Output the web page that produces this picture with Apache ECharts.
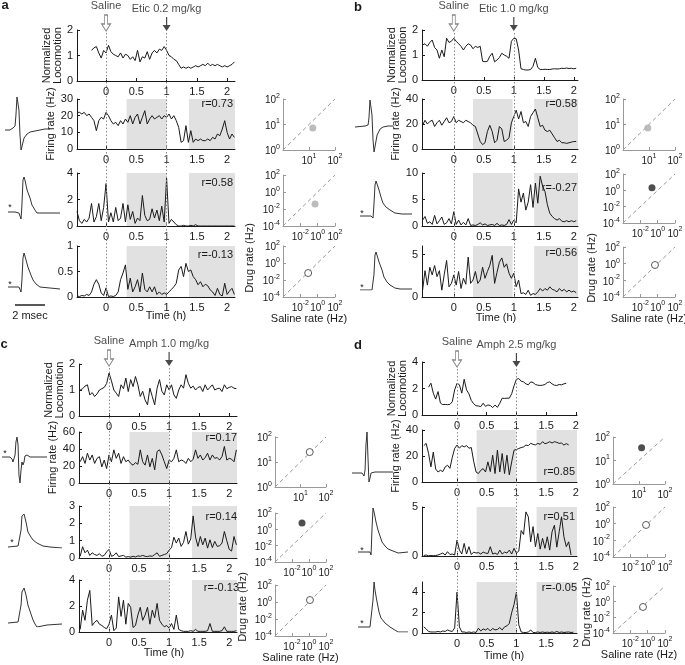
<!DOCTYPE html>
<html><head><meta charset="utf-8">
<script src="https://cdn.jsdelivr.net/npm/echarts@6/dist/echarts.min.js"></script>
<style>html,body{margin:0;padding:0;background:#fff}#c{width:685px;height:665px}</style>
</head><body><div id="c"></div>
<script>
// ---------------- DATA ----------------
const TIME = [-0.56,-0.52,-0.48,-0.44,-0.40,-0.36,-0.32,-0.28,-0.24,-0.20,
  -0.16,-0.12,-0.08,-0.04,0,0.04,0.08,0.12,0.16,0.20,
  0.24,0.28,0.32,0.36,0.40,0.44,0.48,0.52,0.56,0.60,
  0.64,0.68,0.72,0.76,0.80,0.84,0.88,0.92,0.96,1.00,
  1.04,1.08,1.12,1.16,1.20,1.24,1.28,1.32,1.36,1.40,
  1.44,1.48,1.52,1.56,1.60,1.64,1.68,1.72,1.76,1.80,
  1.84,1.88,1.92,1.96,2.00,2.04,2.08,2.12];
const X_TICKS = [0,0.5,1,1.5,2];

// panel a
const LOCO_A = [null,null,null,null,null,null,null,null,1.2,1.3,
  1.35,1.1,0.9,1.2,1.1,1.4,1.15,1.05,1.0,0.95,
  1.1,0.9,1.05,1.0,0.85,0.95,0.8,1.2,0.75,0.95,
  0.9,1.15,0.85,1.1,1.2,1.1,1.25,1.2,1.35,1.2,
  1.0,0.95,0.85,0.8,0.65,0.5,0.55,0.5,0.55,0.5,
  0.55,0.6,0.55,0.6,0.65,0.6,0.7,0.6,0.65,0.6,
  0.65,0.6,0.55,0.6,0.55,0.6,0.65,0.75];
const FR2_A = [null,null,22,22,21,22,20,21,19,17,
  11,17,19,18,22,20,17,15,16,14,
  17,15,18,16,20,15,19,21,15,19,
  23,15,18,20,18,19,20,18,20,19,
  21,18,20,17,13,4,5,14,4,11,
  4,6,5,6,5,5,6,5,7,6,
  9,8,12,17,10,6,9,7];
const FR3_A = [null,null,1.1,0.4,0.2,0.5,0.3,0.6,1.7,0.3,
  0.7,1.7,0.4,1.4,3.2,0.3,1.0,0.3,1.4,0.4,
  0.6,1.7,0.3,1.6,0.5,1.1,0.2,0.6,0.4,2.3,
  0.8,0.4,0.5,1.3,0.6,1.2,0.4,1.5,0.3,3.6,
  0.2,0.5,0.3,0.1,0,0,0.05,0,0,0.05,
  0,0.1,0,0,0,0,0,0,0,0,
  0,0,0,0,0,0,0,0];
const FR4_A = [null,null,0.02,0.01,0.03,0.02,0.05,0.03,0.1,0.25,
  0.34,0.25,0.08,0.03,0.18,0.01,0.02,0.01,0.03,0.1,
  0.34,0.47,0.63,0.15,0.37,0.1,0.2,0.34,0.1,0.47,
  0.15,0.1,0.2,0.1,0.2,0.05,0.1,0.05,0.08,0.05,
  0.1,0.15,0.2,0.27,0.53,0.6,0.4,0.66,0.5,0.53,
  0.4,0.34,0.24,0.3,0.2,0.25,0.22,0.14,0.1,0.03,
  0.17,0.05,0.02,0.27,0.05,0.12,0.17,0.05];

// panel b
const LOCO_B = [null,1.4,1.45,1.35,1.5,1.6,1.3,1.2,0.87,1.2,
  0.93,1.67,1.5,1.55,1.67,1.55,1.45,1.35,1.2,1.35,
  1.45,1.4,1.25,1.35,1.3,1.35,0.75,0.73,0.75,0.95,
  1.07,0.73,0.8,0.9,1.07,1.0,0.95,0.87,1.55,1.67,
  1.65,1.2,0.45,0.42,0.4,0.4,0.42,0.55,0.87,0.5,
  0.42,0.42,0.43,0.42,0.42,0.44,0.45,0.44,0.45,0.47,
  0.46,0.48,0.46,0.47,0.45,0.47,null,null];
const FR2_B = [null,19,23,20,22,23,18,21,23,19,
  22,25,21,22,26,21,23,22,21,23,
  22,21,19,18,12,6,3.5,5,14,19,
  14,5,7,18,16,6,7,9,21,26,
  31,24,30,21,22,18,26,29,32,25,
  18,19,15,14,15,12,9,6,7,5,
  5,4.5,5,5.5,6,6,null,null];
const FR3_B = [null,1.1,1.8,0.5,0.8,0.3,2.0,0.4,1.0,1.7,
  0.3,0.6,1.4,0.4,2.7,0.3,1.1,0.2,0.7,0.2,
  1.4,0.1,0.2,0.1,0.3,0.6,0.2,0.4,0.1,0.2,
  0.3,0.1,0.5,0.1,0.2,0.1,0.3,1.2,0.3,1.1,
  0.6,7.0,4.5,6.2,3.0,4.5,7.8,3.5,8.1,4.3,
  9.4,7.5,6.5,4.0,2.4,1.8,1.4,1.1,1.4,0.9,
  0.8,1.0,0.8,1.0,0.8,1.0,null,null];
const FR4_B = [null,0.8,3.1,1.4,3.5,2.6,3.7,2.4,3.1,0.8,
  2.6,4.3,1.2,1.6,2.6,1.4,3.0,1.0,2.2,1.5,
  4.7,1.6,2.0,3.0,1.6,2.0,3.5,2.2,3.0,3.7,
  4.9,1.6,2.9,4.1,4.6,3.5,3.9,2.8,2.2,2.8,
  1.2,2.0,0.4,0.5,0.3,0.8,0.2,0.4,0.3,0.6,
  1.0,0.7,1.0,0.8,1.2,0.9,0.8,0.6,1.0,0.7,
  0.9,0.6,0.8,0.6,0.7,0.5,null,null];

// panel c
const LOCO_C = [null,null,1.0,1.05,1.15,1.2,0.81,0.9,0.75,0.85,
  1.0,1.05,1.1,1.25,1.65,1.35,1.0,0.88,0.75,1.2,
  1.05,1.46,0.94,1.4,1.13,1.52,1.2,0.75,0.95,0.62,
  0.43,1.07,0.75,0.43,1.07,1.4,0.95,0.81,1.2,1.0,
  1.2,0.81,0.68,1.0,1.2,1.07,1.59,1.26,1.07,1.15,
  1.0,1.1,1.13,0.94,1.2,1.0,1.1,1.2,1.0,1.05,
  1.07,0.94,1.2,1.05,1.1,1.13,1.07,1.05];
const FR2_C = [null,null,25,31,23,35,27,33,23,29,
  31,19,27,17,33,25,39,29,35,23,
  31,25,27,23,21,24,22,39,25,21,
  33,19,29,15.5,37,39,33,25,17,27,
  25,29,39,25,27,26,23,29,25,28,
  39,29,33,27,30,35,27,33,29,30,
  27,31,43,27,29,28,25,39];
const FR3_C = [null,null,0.1,0.65,0.3,0.45,0.15,0.3,0.2,0.15,
  0.25,0.1,0.15,0.35,0.5,0.1,0.15,0.3,0.08,0.12,
  0.15,0.05,0.08,0.05,0.1,0.06,0.12,0.1,0.15,0.1,
  0.08,0.12,0.1,0.2,0.3,0.1,0.15,0.2,0.25,0.45,
  0.6,1.2,0.86,1.15,0.67,0.9,1.53,0.8,1.1,2.43,
  1.2,0.67,1.24,0.76,1.15,0.57,1.05,0.6,0.96,0.67,
  0.7,0.86,1.53,1.0,0.5,0.4,1.24,0.76];
const FR4_C = [null,null,0.2,1.68,0.9,2.45,3.2,0.5,0.75,0.9,
  0.6,0.5,0.35,0.25,0.6,1.3,0.1,0.3,2.7,1.2,
  2.45,0.6,2.2,1.9,0.35,0.5,1.3,1.9,0.9,1.3,
  1.9,0.6,1.68,1.1,2.2,0.9,0.6,0.4,0.5,0.3,
  0.65,0.2,1.3,0.2,0.1,0.05,0.05,0.05,0.1,0.05,
  0.2,0.05,0.05,0.05,0.05,0.1,0.65,0.05,0.05,0.05,
  0.05,0.1,0.4,0.05,0.05,0.05,0.05,0.1];

// panel d
const LOCO_D = [null,null,2.1,2.4,1.65,1.2,1.77,0.9,0.78,0.8,
  0.78,0.8,1.0,1.9,2.4,2.28,1.65,2.7,1.9,1.6,
  1.1,0.85,0.7,0.68,0.63,0.89,0.65,0.76,0.72,0.56,
  0.75,0.58,0.89,1.27,1.25,1.27,1.27,1.6,2.2,2.7,
  2.75,2.55,2.5,2.35,2.28,2.5,2.45,2.3,2.25,2.23,
  2.25,2.3,2.45,2.5,2.35,2.25,2.23,2.3,2.28,2.35,
  2.4,null,null,null,null,null,null,null];
const FR2_D = [28,29.7,22,11.6,23,10,7.7,9,8,11.6,
  12.9,10.5,19,25.8,28.4,26,28,27,28,26,
  26.5,16,7.7,6.5,9,10.3,7.7,15.5,8,20.6,
  6.5,24.5,7.7,21.9,6.5,20.6,5.5,15.5,24.5,25,
  25.8,26.5,27,28.4,28,29.7,29,28.5,29.7,29,
  31,29.5,30,31,30,31,30.5,29.7,30,28.4,
  29.5,28.5,null,null,null,null,null,null];
const FR3_D = [0.05,0.1,0.02,0.05,0.03,0.05,0.1,0.2,0.3,0.1,
  0.44,0.15,0.2,0.1,1.62,0.6,0.2,1.28,0.2,0.95,
  0.15,0.4,0.3,0.35,0.2,0.4,0.3,0.25,0.95,0.2,
  0.3,0.15,0.6,0.2,0.4,0.3,0.6,0.2,0.78,0.3,
  0.5,2.6,2.2,4.5,4.0,1.45,3.0,0.95,2.3,0.7,
  1.8,0.78,1.96,0.6,2.47,3.14,0.9,2.47,4.0,1.96,
  0.95,1.45,0.1,null,null,null,null,null];
const FR4_D = [0.6,0.4,0.15,0.1,0.1,0.1,0.15,0.1,0.2,0.15,
  0.3,0.2,0.15,0.5,4.0,0.6,0.1,0.1,0.05,0.1,
  0.05,0.1,0.05,0.47,0.2,0.4,0.3,0.45,0.2,0.45,
  0.3,0.35,0.53,0.3,0.6,0.7,0.94,2.0,2.8,4.0,
  0.8,0.1,0.05,0.05,0.1,0.3,0.05,0.05,0.1,0.05,
  0.1,0.05,0.08,0.05,0.1,0.05,0.15,0.05,0.1,0.05,
  0.08,0.1,0.05,0.08,null,null,null,null];

// injection times (h), drug labels
const INJ = [0, 1];
const DRUG = ['Etic 0.2 mg/kg','Etic 1.0 mg/kg','Amph 1.0 mg/kg','Amph 2.5 mg/kg'];
// shaded epochs (h)
const SHADE_A = [[0.34,1.0],[1.37,2.13]];
const SHADE_B = [[0.32,0.98],[1.34,2.07]];
const SHADE_C = [[0.34,1.0],[1.38,2.13]];
const SHADE_D = [[0.33,0.99],[1.34,2.02]];
// y scales: [max, ticks]
const YLOCO_A = [2,[0,1,2]], YLOCO_B = [2,[0,1,2]], YLOCO_C = [2,[0,1,2]], YLOCO_D = [4,[0,2,4]];
const YFR_A = [[30,[0,10,20,30]],[4,[0,2,4]],[1,[0,0.5,1]]];
const YFR_B = [[40,[0,20,40]],[10,[0,5,10]],[6,[0,5]]];
const YFR_C = [[60,[0,20,40,60]],[3,[0,1,2,3]],[4,[0,2,4]]];
const YFR_D = [[40,[0,20,40]],[5,[0,5]],[5,[0,2,4]]];
// correlation labels
const R_A = ['r=0.73','r=0.58','r=-0.13'];
const R_B = ['r=0.58','r=-0.27','r=0.56'];
const R_C = ['r=0.17','r=0.14','r=-0.13'];
const R_D = ['r=0.85','r=0.51','r=-0.05'];
// saline vs drug rates (Hz) and marker kind
const SC_A = [[14,7.3],[0.5,0.04],[0.08,0.066]], K_A = ['gray','gray','open'];
const SC_B = [[9,7.3],[0.22,2.1],[0.49,0.69]], K_B = ['gray','black','open'];
const SC_C = [[23,25],[0.15,6],[1.3,1.7]], K_C = ['open','black','open'];
const SC_D = [[12.6,35],[0.65,0.7],[0.29,0.21]], K_D = ['black','open','open'];
const SC_RANGE = [[1,100],[1e-4,100],[1e-4,100]];
const SC_YTICKS = [[1,10,100],[1e-4,1e-2,1,100],[1e-4,1e-2,1,100]];
const SC_XTICKS = [[10,100],[1e-2,1,100],[1e-2,1,100]];
// spike waveforms [ms, amplitude a.u.]
const WAVE_A = [
 [[0,0],[0.33,0],[0.53,2],[0.67,4],[0.73,15],[0.8,33],[0.87,35],[0.93,20],[1.0,-5],[1.07,-20],[1.13,-18],[1.27,-8],[1.47,-4],[1.67,-2],[2.0,-1],[2.33,0],[2.67,1],[3.0,1]],
 [[0,0],[0.47,0],[0.73,-1],[0.87,-7],[0.93,7],[1.0,32],[1.07,35],[1.13,32],[1.27,22],[1.47,14],[1.6,7],[1.8,2],[1.93,-1],[2.13,-1],[2.8,-1],[3.47,-1]],
 [[0,0],[0.73,0],[0.87,-5],[0.93,7],[1.0,29],[1.07,34],[1.13,31],[1.33,20],[1.53,12],[1.67,7],[1.87,3],[2.13,0],[2.8,-1],[3.47,-2]]];
const WAVE_B = [
 [[0,0],[0.67,1],[0.87,2],[0.93,9],[1.0,27],[1.07,29],[1.13,12],[1.2,-13],[1.27,-25],[1.33,-23],[1.47,-8],[1.67,-2],[1.87,0],[2.2,1],[2.53,1]],
 [[0,0],[0.73,0],[0.87,-2],[0.93,11],[1.0,31],[1.07,35],[1.13,33],[1.27,26],[1.4,19],[1.53,13],[1.73,9],[2.0,6],[2.33,3],[2.8,2],[3.47,2]],
 [[0,0],[0.8,0],[0.87,1],[0.93,15],[1.0,35],[1.07,38],[1.13,35],[1.27,28],[1.47,20],[1.6,13],[1.8,8],[2.0,5],[2.33,2],[2.67,1],[3.47,1]]];
const WAVE_C = [
 [[0,0],[0.53,0],[0.67,-2],[0.73,-5],[0.87,2],[0.93,15],[1.0,20],[1.07,12],[1.13,-18],[1.2,-26],[1.27,-13],[1.33,-5],[1.4,-8],[1.47,-5],[1.53,1],[1.67,2],[1.87,0],[2.53,0],[3.0,0]],
 [[0,0],[0.67,1],[0.8,2],[0.87,17],[0.93,31],[1.07,33],[1.2,25],[1.33,15],[1.53,10],[1.67,7],[1.93,4],[2.33,1],[2.8,0],[3.6,-1]],
 [[0,0],[0.67,1],[0.8,2],[0.87,18],[0.93,31],[1.07,35],[1.2,28],[1.33,18],[1.53,9],[1.67,3],[1.8,-1],[1.93,-4],[2.27,-3],[2.6,-2],[3.6,-1]]];
const WAVE_D = [
 [[0,0],[0.67,0],[0.8,-3],[0.87,3],[0.93,28],[1.0,41],[1.07,13],[1.13,-9],[1.2,-5],[1.27,0],[1.53,1],[2.2,1],[2.73,1]],
 [[0,0],[0.8,0],[0.87,-3],[0.93,22],[1.0,44],[1.07,40],[1.2,30],[1.33,22],[1.6,10],[1.8,6],[2.0,3],[2.33,1],[2.67,-1],[3.33,0]],
 [[0,0],[0.8,0],[0.93,1],[1.0,27],[1.07,45],[1.13,37],[1.27,25],[1.4,15],[1.53,9],[1.8,4],[2.13,0],[2.67,-5],[3.33,-5]]];

// ---------------- LAYOUT ----------------
const FONT = '"Liberation Sans", Arial, Helvetica, sans-serif';
const INK = '#1a1a1a';
const PANELS = [
 {letter:'a', lpos:[5,5], xmin:-0.48, xmax:2.13, left:77, width:158,
  rows:[[30,51],[99,50],[173,53],[246,51]], tip:31, bottom:297,
  sc:{left:283,width:52,rows:[[99,51],[175,51],[246,51]]},
  waves:[[5,95,45,55],[8,177,52,42],[8,253,52,39]], gaps:[10,15],
  rpos:[[233,104],[233,183],[233,255]], stars:[[10,208],[10,285]],
  time:[166,316], drugRate:[250,258],
  loco:LOCO_A, fr:[FR2_A,FR3_A,FR4_A], yl:YLOCO_A, yf:YFR_A, shade:SHADE_A, r:R_A, scp:SC_A, k:K_A, w:WAVE_A, drug:DRUG[0]},
 {letter:'b', lpos:[358,7], xmin:-0.53, xmax:2.07, left:422, width:156,
  rows:[[30,50],[99,50],[173,53],[246,51]], tip:31, bottom:297,
  sc:{left:623,width:52,rows:[[99,51],[174,49],[247,50]]},
  waves:[[355,98,38,54],[360,181,52,37],[360,252,52,38]], gaps:[10,14],
  rpos:[[577,104],[577,188],[577,253]], stars:[[362,214],[362,288]],
  time:[496,318], drugRate:[592,268],
  loco:LOCO_B, fr:[FR2_B,FR3_B,FR4_B], yl:YLOCO_B, yf:YFR_B, shade:SHADE_B, r:R_B, scp:SC_B, k:K_B, w:WAVE_B, drug:DRUG[1]},
 {letter:'c', lpos:[4,344], xmin:-0.5, xmax:2.13, left:79, width:158,
  rows:[[364,52],[432,51],[506,52],[580,52]], tip:366, bottom:632,
  sc:{left:275,width:51,rows:[[437,50],[513,49],[585,51]]},
  waves:[[2,437,45,46],[8,514,54,34],[8,588,54,39]], gaps:[7,16],
  rpos:[[237,438],[237,517],[239,588]], stars:[[5,454],[12,543]],
  time:[164,653], drugRate:[243,607],
  loco:LOCO_C, fr:[FR2_C,FR3_C,FR4_C], yl:YLOCO_C, yf:YFR_C, shade:SHADE_C, r:R_C, scp:SC_C, k:K_C, w:WAVE_C, drug:DRUG[2]},
 {letter:'d', lpos:[358,345], xmin:-0.59, xmax:2.02, left:422, width:155,
  rows:[[362,53],[430,52],[507,49],[582,51]], tip:367, bottom:633,
  sc:{left:613,width:52,rows:[[437,47],[507,50],[586,47]]},
  waves:[[352,432,41,50],[358,508,50,47],[358,582,50,50]], gaps:[10,19],
  rpos:[[575,472],[575,517],[577,588]], stars:[[362,551],[362,624]],
  time:[504,656], drugRate:[587,612],
  loco:LOCO_D, fr:[FR2_D,FR3_D,FR4_D], yl:YLOCO_D, yf:YFR_D, shade:SHADE_D, r:R_D, scp:SC_D, k:K_D, w:WAVE_D, drug:DRUG[3]}
];

const SALINE_ARROW = 'path://M3,0 L6,0 L6,9 L9,9 L4.5,16 L0,9 L3,9 Z';
const DRUG_ARROW = 'path://M3.4,0 L4.6,0 L4.6,8 L8,8 L4,14 L0,8 L3.4,8 Z';
const PT_STYLE = {
  gray:{color:'#ababab', borderColor:'#ababab', borderWidth:0},
  black:{color:'#222', borderColor:'#222', borderWidth:0},
  open:{color:'#fff', borderColor:'#333', borderWidth:1}
};

const grids=[], xAxes=[], yAxes=[], series=[], graphic=[];
function grid(l,t,w,h){grids.push({left:l,top:t,width:w,height:h,containLabel:false,outerBoundsMode:'none'});return grids.length-1;}
function textG(x,y,text,o){o=o||{};
  graphic.push({type:'text',x:x,y:y,rotation:o.rot||0,silent:true,z:100,
    style:{text:text,fill:o.color||INK,font:(o.weight||'normal')+' '+(o.size||11)+'px '+FONT,
      textAlign:o.align||'center',textVerticalAlign:o.valign||'middle',align:o.align||'center',verticalAlign:o.valign||'middle'}});}
const TXT = {fontSize:11,fontFamily:FONT,color:INK};

function timeAxes(gi,P,yspec,name,gap){
  const ls={color:INK,width:1};
  xAxes.push({type:'value',gridIndex:gi,min:P.xmin,max:P.xmax,
    axisLine:{show:true,onZero:false,lineStyle:ls},
    axisTick:{show:true,inside:true,length:3,lineStyle:ls,customValues:X_TICKS},
    axisLabel:Object.assign({show:true,customValues:X_TICKS,margin:5,formatter:v=>String(v)},TXT),
    splitLine:{show:false}});
  yAxes.push({type:'value',gridIndex:gi,min:0,max:yspec[0],
    axisLine:{show:true,onZero:false,lineStyle:ls},
    axisTick:{show:true,inside:true,length:3,lineStyle:ls,customValues:yspec[1]},
    axisLabel:Object.assign({show:true,customValues:yspec[1],margin:4,formatter:v=>String(v)},TXT),
    splitLine:{show:false},
    name:name||'',nameLocation:'middle',nameGap:gap||0,nameTextStyle:Object.assign({lineHeight:11},TXT)});
  return [xAxes.length-1,yAxes.length-1];
}
function trace(ax,arr){
  series.push({type:'line',xAxisIndex:ax[0],yAxisIndex:ax[1],data:TIME.map((t,i)=>[t,arr[i]]),
    symbol:'none',showSymbol:false,lineStyle:{color:INK,width:1},z:3,silent:true});
}
function shade(ax,ranges){
  series.push({type:'line',xAxisIndex:ax[0],yAxisIndex:ax[1],data:[],z:1,silent:true,
    markArea:{silent:true,itemStyle:{color:'#e1e1e1'},data:ranges.map(r=>[{xAxis:r[0]},{xAxis:r[1]}])}});
}
const expFmt = v => '{b|10}{s|' + Math.round(Math.log10(v)) + '}';
const RICH = {b:{fontSize:10,fontFamily:FONT,color:INK,verticalAlign:'bottom',lineHeight:13},
              s:{fontSize:7,fontFamily:FONT,color:INK,verticalAlign:'top',lineHeight:8}};

PANELS.forEach(P=>{
  // locomotion
  let gi = grid(P.left,P.rows[0][0],P.width,P.rows[0][1]);
  let ax = timeAxes(gi,P,P.yl,'Normalized\nLocomotion',P.gaps[0]);
  trace(ax,P.loco);
  // firing rows
  for(let i=0;i<3;i++){
    const r=P.rows[i+1];
    gi = grid(P.left,r[0],P.width,r[1]);
    ax = timeAxes(gi,P,P.yf[i], i===0?'Firing rate (Hz)':'', P.gaps[1]);
    shade(ax,P.shade);
    trace(ax,P.fr[i]);
    textG(P.rpos[i][0],P.rpos[i][1],P.r[i],{align:'right'});
    // scatter
    const s=P.sc.rows[i];
    const sg = grid(P.sc.left,s[0],P.sc.width,s[1]);
    const sls={color:'#999',width:1};
    xAxes.push({type:'log',logBase:10,gridIndex:sg,min:SC_RANGE[i][0],max:SC_RANGE[i][1],
      axisLine:{show:true,onZero:false,lineStyle:sls},
      axisTick:{show:true,inside:true,length:3,lineStyle:sls,customValues:SC_XTICKS[i]},
      axisLabel:{show:true,customValues:SC_XTICKS[i],margin:3,formatter:expFmt,rich:RICH},
      minorTick:{show:false},splitLine:{show:false},
      name: i===2?'Saline rate (Hz)':'', nameLocation:'middle', nameGap:15, nameTextStyle:TXT});
    yAxes.push({type:'log',logBase:10,gridIndex:sg,min:SC_RANGE[i][0],max:SC_RANGE[i][1],
      axisLine:{show:true,onZero:false,lineStyle:sls},
      axisTick:{show:true,inside:true,length:3,lineStyle:sls,customValues:SC_YTICKS[i]},
      axisLabel:{show:true,customValues:SC_YTICKS[i],margin:3,formatter:expFmt,rich:RICH},
      minorTick:{show:false},splitLine:{show:false}});
    const xi=xAxes.length-1, yi=yAxes.length-1;
    series.push({type:'line',xAxisIndex:xi,yAxisIndex:yi,data:[[SC_RANGE[i][0],SC_RANGE[i][0]],[SC_RANGE[i][1],SC_RANGE[i][1]]],
      symbol:'none',lineStyle:{color:'#999',width:1,type:[4,3]},z:2,silent:true});
    series.push({type:'scatter',xAxisIndex:xi,yAxisIndex:yi,data:[{value:P.scp[i],itemStyle:PT_STYLE[P.k[i]]}],
      symbolSize:7,z:4,silent:true});
  }
  // waveforms
  P.w.forEach((wd,i)=>{
    const b=P.waves[i];
    const wg=grid(b[0],b[1],b[2],b[3]);
    xAxes.push({type:'value',gridIndex:wg,show:false,min:'dataMin',max:'dataMax'});
    yAxes.push({type:'value',gridIndex:wg,show:false,min:'dataMin',max:'dataMax'});
    series.push({type:'line',xAxisIndex:xAxes.length-1,yAxisIndex:yAxes.length-1,data:wd,symbol:'none',
      lineStyle:{color:'#333',width:1},silent:true});
  });
  P.stars.forEach(s=>textG(s[0],s[1],'*',{size:9}));
  // overlay: injection lines and arrows
  const og = grid(P.left,P.tip,P.width,P.bottom-P.tip);
  xAxes.push({type:'value',gridIndex:og,min:P.xmin,max:P.xmax,show:false});
  yAxes.push({type:'value',gridIndex:og,min:0,max:1,show:false});
  series.push({type:'scatter',xAxisIndex:xAxes.length-1,yAxisIndex:yAxes.length-1,z:10,clip:false,silent:true,
    symbolOffset:[0,'-50%'],
    label:{show:true,position:'top',distance:3,fontSize:11,fontFamily:FONT,color:INK},
    data:[
      {value:[INJ[0],1],symbol:SALINE_ARROW,symbolSize:[9,16],itemStyle:{color:'#fff',borderColor:'#666',borderWidth:1},label:{formatter:'Saline'}},
      {value:[INJ[1],1],symbol:DRUG_ARROW,symbolSize:[8,14],itemStyle:{color:INK},label:{formatter:P.drug}}],
    markLine:{silent:true,symbol:['none','none'],label:{show:false},lineStyle:{color:'#8a8a8a',type:[1.5,2],width:1},
      data:INJ.map(v=>({xAxis:v}))}});
  textG(P.lpos[0],P.lpos[1],P.letter,{size:13,weight:'bold'});
  textG(P.time[0],P.time[1],'Time (h)');
  textG(P.drugRate[0],P.drugRate[1],'Drug rate (Hz)',{rot:Math.PI/2});
});
// scale bar
graphic.push({type:'line',shape:{x1:15,y1:305,x2:45,y2:305},style:{stroke:'#222',lineWidth:1.5},silent:true});
textG(30,316,'2 msec');

const chart = echarts.init(document.getElementById('c'),null,{renderer:'canvas'});
chart.setOption({animation:false,backgroundColor:'#fff',grid:grids,xAxis:xAxes,yAxis:yAxes,series:series,graphic:graphic});
</script></body></html>
